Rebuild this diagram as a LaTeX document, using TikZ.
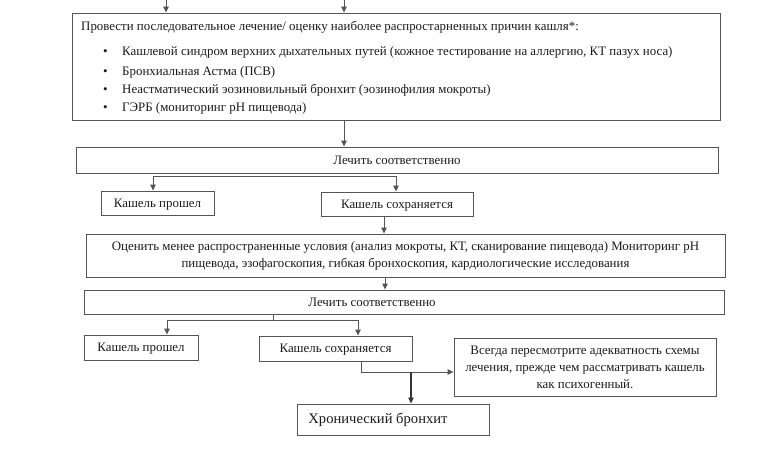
\documentclass[tikz,border=0pt]{standalone}
\usepackage{fontspec}
\setmainfont{Liberation Serif}
\usetikzlibrary{arrows.meta}
\newcommand{\fsz}{\fontsize{12.9}{17}\selectfont}
\definecolor{lc}{HTML}{555555}
\definecolor{tc}{HTML}{1A1A1A}
\begin{document}
\begin{tikzpicture}[x=1pt,y=-1pt,
  frame/.style={draw=lc, line width=0.9pt, inner sep=0pt, font=\fsz, text=tc},
  box/.style={frame, text height=9pt, text depth=1pt},
  mbox/.style={frame, align=center},
  arr/.style={draw=lc, line width=0.9pt, -{Triangle[length=6pt,width=5.5pt]}},
  ln/.style={draw=lc, line width=0.9pt},
  txt/.style={inner sep=0pt, font=\fsz, text=tc, anchor=base west}]
\useasboundingbox (0,0) rectangle (776,452);

% top box
\node[frame, minimum width=648, minimum height=107] (top) at (396,66.5) {};
\node[txt] (h) at (81,31) {Провести последовательное лечение/ оценку наиболее распростарненных причин кашля*:};
\node[txt] (d1) at (103,56) {•};
\node[txt] (t1) at (122,56) {Кашлевой синдром верхних дыхательных путей (кожное тестирование на аллергию, КТ пазух носа)};
\node[txt] (d2) at (103,75) {•};
\node[txt] (t2) at (122,75) {Бронхиальная Астма (ПСВ)};
\node[txt] (d3) at (103,93) {•};
\node[txt] (t3) at (122,93) {Неастматический эозиновильный бронхит (эозинофилия мокроты)};
\node[txt] (d4) at (103,111) {•};
\node[txt] (t4) at (122,111) {ГЭРБ (мониторинг рН пищевода)};

\coordinate (s1) at (166,0);
\coordinate (s2) at (344,0);
\draw[arr] (s1) -- (s1 |- top.north);
\draw[arr] (s2) -- (s2 |- top.north);

% first treat
\node[box, minimum width=642, minimum height=26] (L1) at (397,160) {Лечить соответственно};
\draw[arr] (top.south -| s2) -- (s2 |- L1.north);

\node[box, minimum width=113, minimum height=24] (ok1) at (157.5,203) {Кашель прошел};
\node[box, minimum width=152, minimum height=24] (keep1) at (397,204) {Кашель сохраняется};
\coordinate (br1) at (274,176);
\draw[arr] (br1) -| ([xshift=-4.5pt]ok1.north);
\draw[arr] (br1) -| ([xshift=-1pt]keep1.north);

% evaluate
\node[mbox, minimum width=639, minimum height=43] (ev) at (405.5,255.5) {Оценить менее распространенные условия (анализ мокроты, КТ, сканирование пищевода) Мониторинг рН\hspace{10pt}\\пищевода, эзофагоскопия, гибкая бронхоскопия, кардиологические исследования\hspace{16pt}};
\draw[arr] ([xshift=-13pt]keep1.south) -- ([xshift=-13pt]keep1.south |- ev.north);

% second treat
\node[box, minimum width=640, minimum height=24] (L2) at (404,302) {Лечить соответственно\kern64pt};
\draw[arr] ([xshift=-20.5pt]ev.south) -- ([xshift=-20.5pt]ev.south |- L2.north);

\node[box, minimum width=114, minimum height=25] (ok2) at (141,347.5) {Кашель прошел};
\node[box, minimum width=153, minimum height=25] (keep2) at (335.5,348.5) {Кашель сохраняется};
\coordinate (br2) at (273,320);
\draw[ln] (br2) -- (br2 |- L2.south);
\draw[arr] (br2) -| ([xshift=26pt]ok2.north);
\draw[arr] (br2) -| ([xshift=22.5pt]keep2.north);

% final
\node[mbox, minimum width=262, minimum height=58] (note) at (585,367) {Всегда пересмотрите адекватность схемы\\лечения, прежде чем рассматривать кашель\\как психогенный.};
\node[frame, minimum width=192, minimum height=31, text height=10pt, text depth=2pt, font=\fontsize{14.6}{18}\selectfont] (chr) at (393,419.5) {Хронический бронхит\kern30pt};
\coordinate (j) at (411,372);
\draw[arr] ([xshift=25.5pt]keep2.south) |- (note.west |- j);
\draw[arr, draw=black!80, line width=1.1pt] (j) -- (j |- chr.north);
\end{tikzpicture}
\end{document}
